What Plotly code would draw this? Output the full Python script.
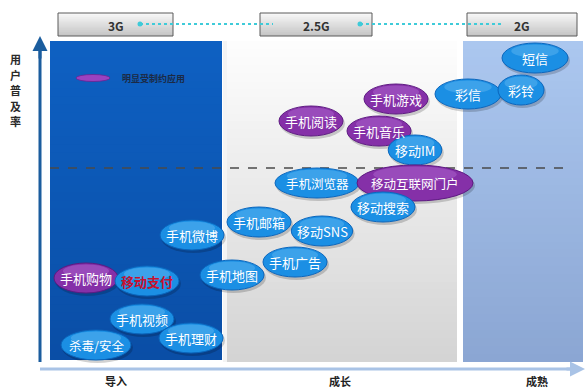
import plotly.graph_objects as go

# ---- data -------------------------------------------------------------
# mobile apps positioned by lifecycle stage (x) and user penetration (y, screen-down)
apps = ["短信", "彩信", "彩铃", "手机游戏", "手机阅读", "手机音乐", "移动IM",
        "手机浏览器", "移动互联网门户", "移动搜索", "手机邮箱", "移动SNS",
        "手机微博", "手机广告", "手机地图", "手机购物", "移动支付",
        "手机视频", "手机理财", "杀毒/安全"]
lifecycle = [535, 468, 521, 396, 311, 379, 415, 317, 415, 383, 259, 322,
             192, 295, 232, 86, 147, 142, 191, 96]
penetration = [58, 94, 90, 99, 121, 131, 150, 183, 183, 207, 222, 231,
               235, 262, 275, 278, 281, 319, 338, 345]
restricted = [False, False, False, True, True, True, False, False, True, False,
              False, False, False, False, False, True, False, False, False, False]

stages = ["导入", "成长", "成熟"]
networks = ["3G", "2.5G", "2G"]
legend_text = "明显受制约应用"
y_title = "用户普及率"

# ---- style ------------------------------------------------------------
FONT = "Noto Sans CJK SC"
W, H = 586, 390
bubble_w = {"短信": 66, "彩信": 66, "彩铃": 46, "移动互联网门户": 116,
            "手机浏览器": 84, "杀毒/安全": 70}
bubble_h = {"移动互联网门户": 36}
BLUE, BLUE_EDGE, BLUE_HI = "#1b8fe4", "#0a66bd", "#7cc6f6"
PURP, PURP_EDGE, PURP_HI = "#8530a8", "#5e1a82", "#c07ee0"

shapes, annots = [], []


def hex_mix(c1, c2, t):
    a = [int(c1[i:i + 2], 16) for i in (1, 3, 5)]
    b = [int(c2[i:i + 2], 16) for i in (1, 3, 5)]
    return "#%02x%02x%02x" % tuple(round(a[k] + (b[k] - a[k]) * t) for k in range(3))


def gradient_rect(x0, x1, y0, y1, top, bottom, n=40):
    # stacked strips; each one overlaps the next so no seams show
    step = (y1 - y0) / n
    for i in range(n):
        shapes.append(dict(type="rect", xref="x", yref="y", x0=x0, x1=x1,
                           y0=y0 + i * step, y1=min(y1, y0 + (i + 1) * step + 3),
                           fillcolor=hex_mix(top, bottom, i / (n - 1)),
                           line=dict(width=0), layer="below"))


# stage panels
gradient_rect(50, 222, 41, 360, "#0e60c2", "#0a4ea6")
gradient_rect(227, 457, 41, 362, "#fdfdfd", "#d4d4d4")
gradient_rect(463, 583, 41, 362, "#abc7ef", "#8ba6d3")
shapes.append(dict(type="rect", xref="x", yref="y", x0=223, x1=227, y0=41, y1=362,
                   fillcolor="#f4f4f4", line=dict(width=0), layer="below"))

# network header boxes
for (x0, x1), label in zip([(58, 173), (260, 372), (467, 577)], networks):
    gradient_rect(x0, x1, 13, 36, "#f6f6f6", "#c6c6c6", n=12)
    shapes.append(dict(type="rect", xref="x", yref="y", x0=x0, x1=x1, y0=13, y1=36,
                       line=dict(color="#5a5a5a", width=1)))
    annots.append(dict(x=(x0 + x1) / 2, y=25, text=f"<b>{label}</b>", showarrow=False,
                       font=dict(family=FONT, size=12, color="#333333")))

# dotted connectors between generations
for xs, xe in [(140, 273), (360, 502)]:
    shapes.append(dict(type="line", xref="x", yref="y", x0=xs, x1=xe, y0=24, y1=24,
                       line=dict(color="#3fcbd9", width=2, dash="dot")))
    shapes.append(dict(type="circle", xref="x", yref="y", x0=xs - 2.5, x1=xs + 2.5,
                       y0=21.5, y1=26.5, fillcolor="#3fcbd9", line=dict(width=0)))

# penetration threshold
shapes.append(dict(type="line", xref="x", yref="y", x0=50, x1=572, y0=168, y1=168,
                   line=dict(color="#4a4a4a", width=1.3, dash="dash")))

# axes arrows
shapes.append(dict(type="line", xref="x", yref="y", x0=40, x1=40, y0=362, y1=44,
                   line=dict(color="#1b5d9e", width=3)))
annots.append(dict(x=40, y=36, ax=40, ay=60, xref="x", yref="y", axref="x", ayref="y",
                   text="", showarrow=True, arrowhead=2, arrowsize=1, arrowwidth=3,
                   arrowcolor="#1b5d9e"))
shapes.append(dict(type="line", xref="x", yref="y", x0=40, x1=578, y0=369, y1=369,
                   line=dict(color="#a9c3e6", width=3)))
annots.append(dict(x=585, y=369, ax=565, ay=369, xref="x", yref="y", axref="x", ayref="y",
                   text="", showarrow=True, arrowhead=2, arrowsize=1, arrowwidth=3,
                   arrowcolor="#a9c3e6"))

# vertical axis title, one character per row
for i, ch in enumerate(y_title):
    annots.append(dict(x=15, y=59 + i * 15.5, text=f"<b>{ch}</b>", showarrow=False,
                       font=dict(family=FONT, size=11, color="#2a2a2a"),
                       xref="x", yref="y"))
for sx, sy, s in zip([116, 340, 537], [381, 381, 381], stages):
    annots.append(dict(x=sx, y=sy, text=f"<b>{s}</b>", showarrow=False,
                       font=dict(family=FONT, size=11, color="#222222")))

# legend
shapes.append(dict(type="circle", xref="x", yref="y", x0=76, x1=110, y0=74.5, y1=81.5,
                   fillcolor="#9a42c0", line=dict(color="#6a2390", width=0.8)))
annots.append(dict(x=120, y=78, text=f"<b>{legend_text}</b>", showarrow=False,
                   xanchor="left", font=dict(family=FONT, size=9, color="#1c2a44")))

# app bubbles
for name, cx, cy, r in zip(apps, lifecycle, penetration, restricted):
    n = sum(0.6 if ch.isascii() else 1 for ch in name)
    w = bubble_w.get(name, 13 * n + 12)
    h = bubble_h.get(name, 30)
    fill, edge, hi = (PURP, PURP_EDGE, PURP_HI) if r else (BLUE, BLUE_EDGE, BLUE_HI)
    # soft shadow
    shapes.append(dict(type="circle", xref="x", yref="y", x0=cx - w / 2 + 1, x1=cx + w / 2 + 2,
                       y0=cy - h / 2 + 2, y1=cy + h / 2 + 3, fillcolor="rgba(0,0,0,0.18)",
                       line=dict(width=0)))
    shapes.append(dict(type="circle", xref="x", yref="y", x0=cx - w / 2, x1=cx + w / 2,
                       y0=cy - h / 2, y1=cy + h / 2, fillcolor=fill,
                       line=dict(color=edge, width=1)))
    shapes.append(dict(type="circle", xref="x", yref="y", x0=cx - w * 0.36, x1=cx + w * 0.36,
                       y0=cy - h / 2 + 1.5, y1=cy - h * 0.02, fillcolor=hi, opacity=0.35,
                       line=dict(width=0)))
    color = "#c8102e" if name == "移动支付" else "white"
    txt = f"<b>{name}</b>" if name == "移动支付" else name
    annots.append(dict(x=cx, y=cy + 0.5, text=txt, showarrow=False,
                       font=dict(family=FONT, size=13 if n <= 4 else 12.5, color=color)))

fig = go.Figure()
fig.add_trace(go.Scatter(x=[0, W], y=[0, H], mode="markers",
                         marker=dict(opacity=0), hoverinfo="skip", showlegend=False))
fig.update_layout(
    width=W, height=H, margin=dict(l=0, r=0, t=0, b=0),
    paper_bgcolor="white", plot_bgcolor="white",
    xaxis=dict(range=[0, W], visible=False, fixedrange=True),
    yaxis=dict(range=[H, 0], visible=False, fixedrange=True),
    shapes=shapes, annotations=annots, showlegend=False,
)
fig.write_html("out.html")
